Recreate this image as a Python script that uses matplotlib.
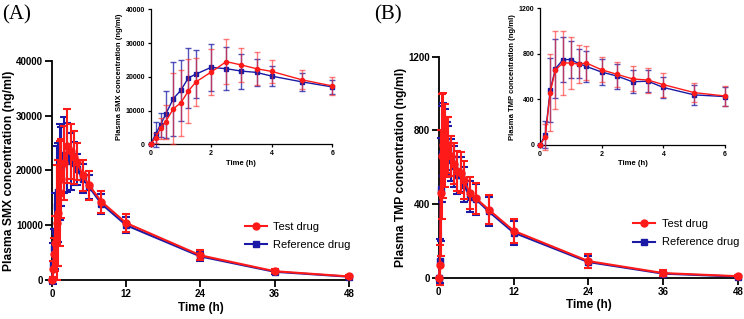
import numpy as np
import matplotlib.pyplot as plt
from matplotlib.lines import Line2D

plt.rcParams['font.family'] = ['Liberation Sans', 'DejaVu Sans']

# sampling times (h)
t = [0, 0.17, 0.33, 0.5, 0.75, 1, 1.25, 1.5, 2, 2.5, 3, 3.5, 4, 5, 6, 8, 12, 24, 36, 48]

# SMX (ng/ml)
smx_test = [0, 2000, 4700, 6700, 10500, 12300, 15800, 18500, 21400, 24500, 23500, 22400, 21600, 19100, 17300, 14300, 10400, 4500, 1600, 650]
smx_test_sd = [0, 1500, 3000, 5000, 10500, 9700, 9600, 7200, 6700, 6700, 5000, 4900, 3400, 2800, 2600, 2000, 1600, 900, 400, 200]
smx_ref = [0, 3000, 5800, 8900, 13500, 16000, 19700, 20800, 22800, 22400, 21700, 21300, 20200, 18500, 17000, 13900, 10000, 4300, 1500, 600]
smx_ref_sd = [0, 3700, 3600, 6900, 10900, 9100, 8800, 7200, 6900, 6300, 5200, 3900, 2900, 2600, 2200, 1800, 1500, 800, 400, 200]

# TMP (ng/ml)
tmp_test = [0, 70, 460, 660, 720, 720, 710, 720, 660, 620, 580, 570, 530, 460, 430, 370, 255, 90, 25, 8]
tmp_test_sd = [0, 110, 340, 340, 285, 225, 165, 150, 110, 110, 110, 110, 105, 85, 85, 80, 65, 40, 15, 5]
tmp_ref = [0, 90, 480, 670, 750, 750, 715, 690, 640, 605, 555, 560, 505, 440, 425, 360, 245, 85, 22, 6]
tmp_ref_sd = [0, 120, 280, 260, 200, 165, 130, 135, 115, 110, 100, 95, 95, 85, 85, 80, 65, 35, 15, 5]

RED = '#ff1a1a'
BLUE = '#1a1aa6'

t = np.array(t)
inset_n = int(np.sum(t <= 6))


def style(ax, lw, tl, fs):
    for s in ['top', 'right']:
        ax.spines[s].set_visible(False)
    for s in ['left', 'bottom']:
        ax.spines[s].set_linewidth(lw)
    ax.tick_params(width=lw, length=tl, labelsize=fs, pad=1.5)
    for lab in ax.get_xticklabels() + ax.get_yticklabels():
        lab.set_fontweight('bold')


def draw_main(ax, test, test_sd, ref, ref_sd, ymax, yticks, ylabel, ylab_x):
    ax.errorbar(t, ref, yerr=ref_sd, color=BLUE, marker='s', ms=5, lw=1.5,
                elinewidth=1.5, capsize=3, capthick=1.5, clip_on=False, zorder=3)
    ax.errorbar(t, test, yerr=test_sd, color=RED, marker='o', ms=5, lw=1.5,
                elinewidth=1.5, capsize=3, capthick=1.5, clip_on=False, zorder=4)
    ax.set_xlim(0, 48)
    ax.set_ylim(0, ymax)
    ax.set_xticks([0, 12, 24, 36, 48])
    ax.set_yticks(yticks)
    ax.set_xlabel('Time (h)', fontsize=8.5, fontweight='bold', labelpad=2)
    ax.set_ylabel(ylabel, fontsize=8.7, fontweight='bold')
    ax.yaxis.set_label_coords(ylab_x, 0.5)
    style(ax, 1.3, 5, 7)
    handles = [Line2D([], [], color=RED, marker='o', ms=5, lw=1.5),
               Line2D([], [], color=BLUE, marker='s', ms=5, lw=1.5)]
    ax.legend(handles, ['Test drug', 'Reference drug'], loc='upper left',
              bbox_to_anchor=(0.63, 0.29), frameon=False, fontsize=8,
              handlelength=2.0, labelspacing=0.75, handletextpad=0.6, borderpad=0)


def draw_inset(ax, test, test_sd, ref, ref_sd, ymax, yticks, ylabel):
    n = inset_n
    ax.errorbar(t[:n], ref[:n], yerr=ref_sd[:n], color=BLUE, marker='s', ms=3,
                lw=1, elinewidth=1, capsize=2, capthick=1, clip_on=False,
                zorder=3, ecolor=(0.1, 0.1, 0.65, 0.75))
    ax.errorbar(t[:n], test[:n], yerr=test_sd[:n], color=RED, marker='o', ms=3,
                lw=1, elinewidth=1, capsize=2, capthick=1, clip_on=False,
                zorder=4, ecolor=(1, 0.15, 0.15, 0.6))
    ax.set_xlim(0, 6)
    ax.set_ylim(0, ymax)
    ax.set_xticks([0, 2, 4, 6])
    ax.set_yticks(yticks)
    ax.set_xlabel('Time (h)', fontsize=5.5, fontweight='bold', labelpad=2)
    ax.set_ylabel(ylabel, fontsize=5.5, fontweight='bold', labelpad=2)
    ax.set_facecolor('none')
    style(ax, 0.9, 2.5, 5)


fig = plt.figure(figsize=(7.44, 3.19), dpi=100)

axA = fig.add_axes([0.0699, 0.1223, 0.399, 0.6865])
draw_main(axA, smx_test, smx_test_sd, smx_ref, smx_ref_sd, 40000,
          [0, 10000, 20000, 30000, 40000], 'Plasma SMX concentration (ng/ml)', -0.125)
insA = fig.add_axes([0.2023, 0.5476, 0.2444, 0.4232])
draw_inset(insA, smx_test, smx_test_sd, smx_ref, smx_ref_sd, 40000,
           [0, 10000, 20000, 30000, 40000], 'Plasma SMX concentration (ng/ml)')

axB = fig.add_axes([0.5897, 0.1295, 0.4023, 0.6928])
draw_main(axB, tmp_test, tmp_test_sd, tmp_ref, tmp_ref_sd, 1200,
          [0, 400, 800, 1200], 'Plasma TMP concentration (ng/ml)', -0.106)
insB = fig.add_axes([0.7258, 0.5455, 0.2487, 0.4285])
draw_inset(insB, tmp_test, tmp_test_sd, tmp_ref, tmp_ref_sd, 1200,
           [0, 400, 800, 1200], 'Plasma TMP concentration (ng/ml)')

fig.text(0.003, 0.985, '(A)', fontsize=15, family=['Liberation Serif'], va='top')
fig.text(0.503, 0.985, '(B)', fontsize=15, family=['Liberation Serif'], va='top')

fig.savefig('out.png', dpi=100)
